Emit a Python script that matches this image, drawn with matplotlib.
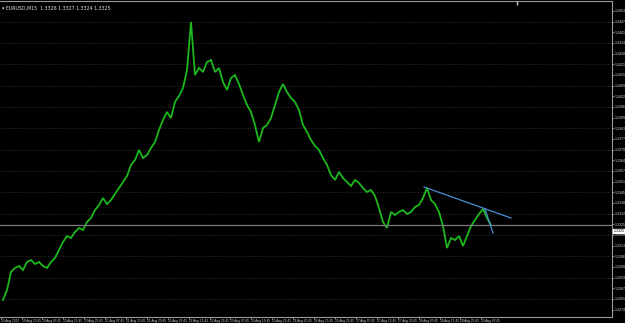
import matplotlib
matplotlib.use("Agg")
import matplotlib.pyplot as plt
import numpy as np

# EURUSD M15 closes (one value every few bars)
closes = [
    1.32800, 1.32860, 1.32968, 1.32992, 1.33004, 1.32980, 1.33028, 1.33040, 1.33016, 1.33028,
    1.33004, 1.32992, 1.33028, 1.33052, 1.33100, 1.33148, 1.33184, 1.33172, 1.33208, 1.33232,
    1.33220, 1.33268, 1.33292, 1.33340, 1.33370, 1.33412, 1.33376, 1.33400, 1.33436, 1.33472,
    1.33508, 1.33544, 1.33610, 1.33640, 1.33700, 1.33652, 1.33670, 1.33712, 1.33748, 1.33820,
    1.33880, 1.33928, 1.33892, 1.33988, 1.34024, 1.34072, 1.34180, 1.34468, 1.34150, 1.34192,
    1.34168, 1.34228, 1.34240, 1.34168, 1.34192, 1.34108, 1.34060, 1.34132, 1.34150, 1.34096,
    1.34030, 1.33970, 1.33928, 1.33850, 1.33748, 1.33832, 1.33850, 1.33892, 1.33970, 1.34048,
    1.34096, 1.34048, 1.34012, 1.33988, 1.33940, 1.33850, 1.33808, 1.33760, 1.33724, 1.33700,
    1.33652, 1.33610, 1.33550, 1.33520, 1.33568, 1.33532, 1.33508, 1.33484, 1.33520, 1.33502,
    1.33472, 1.33448, 1.33460, 1.33424, 1.33352, 1.33268, 1.33232, 1.33328, 1.33310, 1.33328,
    1.33340, 1.33316, 1.33328, 1.33358, 1.33370, 1.33412, 1.33472, 1.33400, 1.33376, 1.33328,
    1.33244, 1.33112, 1.33172, 1.33160, 1.33184, 1.33124, 1.33184, 1.33244, 1.33280, 1.33316,
    1.33346, 1.33292, 1.33250,
]

time_labels = [
    "19 Aug 2013", "19 Aug 23:45", "20 Aug 07:45", "20 Aug 15:45", "20 Aug 23:45",
    "21 Aug 07:45", "21 Aug 15:45", "21 Aug 23:45", "22 Aug 07:45", "22 Aug 15:45",
    "22 Aug 23:45", "23 Aug 07:45", "23 Aug 15:45", "23 Aug 23:45", "26 Aug 07:45",
    "26 Aug 15:45", "26 Aug 23:45", "27 Aug 07:45", "27 Aug 15:45", "27 Aug 23:45",
    "28 Aug 07:45", "28 Aug 15:45", "28 Aug 23:45", "29 Aug 07:45",
]

bid_line = 1.33250
bid_label = 1.33214
trend1 = ([105.25, 127.0], [1.33478, 1.33292])
trend2 = ([120.5, 122.5], [1.33346, 1.33202])

small = ["Liberation Sans", "DejaVu Sans"]

W, H = 625, 323
fig = plt.figure(figsize=(W / 100, H / 100), dpi=100, facecolor="black")
ax = fig.add_axes([0, 6 / H, 612 / W, 316 / H], facecolor="black")

x = np.arange(len(closes))
ax.plot(x, closes, color="#1cb81c", lw=1.3, solid_joinstyle="miter")

ax.axhline(bid_line, color="#7a7a7a", lw=0.9)
ax.plot(*trend1, color="#4a8fd6", lw=0.9)
ax.plot(*trend2, color="#4a8fd6", lw=0.9)

ax.set_xlim(-0.75, 152.25)
ax.set_ylim(1.32698, 1.34594)

yt = 1.34470 - 0.00064 * np.arange(-1, 28)
ax.set_yticks(yt)
ax.set_yticklabels([f"{v:.4f}" for v in yt], family=small, fontsize=2.6)
for v in yt[1::2]:
    ax.axhline(v, color="#3c3c3c", lw=0.6, ls=(0, (1, 2)), zorder=0)

xt = -0.6 + 5.225 * np.arange(len(time_labels))
ax.set_xticks(xt)
ax.set_xticklabels(time_labels, ha="left", family=small, fontsize=2.3)

ax.yaxis.tick_right()
ax.tick_params(axis="y", colors="#bfbfbf", length=1.2, width=0.5, pad=0.5)
ax.tick_params(axis="x", colors="#bfbfbf", length=1.5, width=0.5, pad=0.2)
for lab in ax.get_yticklabels() + ax.get_xticklabels():
    lab.set_color("#d0d0d0")

ax.spines["left"].set_visible(False)
for s in ["right", "bottom", "top"]:
    ax.spines[s].set_color("#9a9a9a")
    ax.spines[s].set_linewidth(0.8)

ax.text(1.003, bid_label, f"{bid_line:.4f}", transform=ax.get_yaxis_transform(),
        fontsize=2.6, family=small, color="black", va="center", ha="left",
        bbox=dict(boxstyle="square,pad=0.1", fc="white", ec="white"))

ax.text(0.004, 0.985, "\u25be EURUSD,M15  1.3326 1.3327 1.3324 1.3325",
        transform=ax.transAxes, fontsize=3.4, color="#e0e0e0", va="top", ha="left")
ax.plot([0.845], [0.993], marker="|", ms=3, color="#d0d0d0", transform=ax.transAxes)

fig.savefig("out.png", dpi=100, facecolor="black")
